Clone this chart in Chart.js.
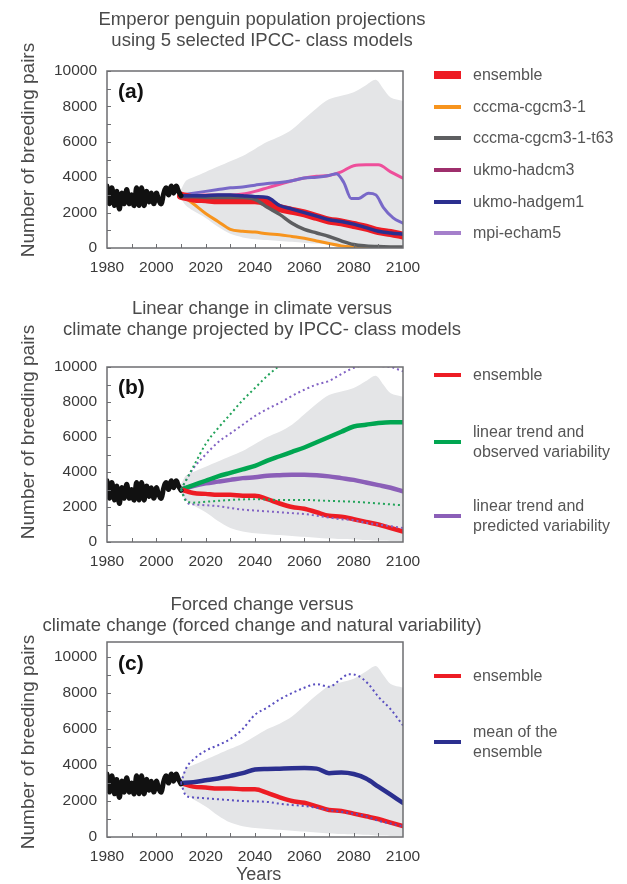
<!DOCTYPE html>
<html>
<head>
<meta charset="utf-8">
<script src="https://cdn.jsdelivr.net/npm/chart.js@4"></script>
<style>
body{margin:0;background:#fff;font-family:"Liberation Sans",Arial,sans-serif;}
#page{position:relative;width:627px;height:884px;overflow:hidden;}
canvas{position:absolute;left:0;}
.title{position:absolute;left:12px;width:500px;text-align:center;font-size:18.5px;line-height:21px;color:#4a4a4a;white-space:nowrap;}
.ylab{position:absolute;width:260px;left:-102px;text-align:center;font-size:19px;color:#4a4a4a;transform:rotate(-90deg);white-space:nowrap;}
.tag{position:absolute;left:118px;font-size:21px;font-weight:bold;color:#111;line-height:22px;}
.sw{position:absolute;left:434px;width:27px;}
.lt{position:absolute;left:473px;font-size:16px;line-height:20px;color:#555;white-space:nowrap;}
</style>
</head>
<body>
<div id="page">
<canvas id="ca" width="627" height="290" style="top:0"></canvas>
<canvas id="cb" width="627" height="300" style="top:290px"></canvas>
<canvas id="cc" width="627" height="294" style="top:590px"></canvas>

<div class="title" style="top:8px">Emperor penguin population projections<br>using 5 selected IPCC- class models</div>
<div class="title" style="top:297px">Linear change in climate versus<br>climate change projected by IPCC- class models</div>
<div class="title" style="top:593px">Forced change versus<br>climate change (forced change and natural variability)</div>

<div class="ylab" style="top:139px">Number of breeding pairs</div>
<div class="ylab" style="top:421px">Number of breeding pairs</div>
<div class="ylab" style="top:731px">Number of breeding pairs</div>

<div class="tag" style="top:80px">(a)</div>
<div class="tag" style="top:376px">(b)</div>
<div class="tag" style="top:652px">(c)</div>

<div style="position:absolute;left:236px;top:864px;font-size:18px;color:#4a4a4a">Years</div>

<div id="legends"></div>
</div>

<script>
// ---- data ----
const obsYears = [1980,1981,1982,1983,1984,1985,1986,1987,1988,1989,1990,1991,1992,1993,1994,1995,1996,1997,1998,1999,2000,2001,2002,2003,2004,2005,2006,2007,2008,2009,2010];
const obsPairs = [3500,2500,3400,2400,3200,2200,3100,2500,3300,2500,3000,2400,3400,2400,3400,2400,3200,2600,3100,2500,3100,2700,2500,3100,3400,3000,3500,3100,3500,3200,2950];

const projYears = [2010,2015,2020,2025,2030,2035,2040,2045,2050,2055,2060,2065,2070,2075,2080,2085,2090,2095,2100];

const bandYears = [2010,2012,2015,2020,2025,2030,2035,2040,2045,2050,2055,2060,2065,2070,2075,2080,2085,2089,2092,2095,2100];
const bandUpper = [3300,3800,4000,4300,4600,4900,5200,5600,6000,6300,6700,7300,7900,8400,8600,8800,9200,9500,9000,8500,8300];
const bandLower = [2800,2400,2100,1700,1200,800,600,500,450,400,350,300,250,200,170,150,120,90,80,60,50];

// panel (a)
const ensembleA  = [2950,2800,2750,2700,2700,2700,2700,2550,2250,2100,1950,1750,1550,1450,1300,1150,950,850,700];
const cccma      = [3000,2500,1950,1500,1050,950,900,800,750,650,550,400,250,120,60,20,0,0,0];
const cccmaT63   = [2900,2900,2850,2850,2850,2850,2750,2300,1900,1400,1050,850,650,400,200,120,80,60,50];
const hadcm3     = [3000,3000,3000,3000,3000,3050,3200,3400,3600,3800,3950,4050,4100,4300,4650,4700,4700,4300,3950];
const hadgem1    = [2950,2950,2950,3000,3000,2950,2900,2850,2400,2200,2000,1800,1600,1500,1350,1150,950,850,780];
const echamYears = [2010,2015,2020,2025,2030,2035,2040,2045,2050,2055,2060,2065,2070,2073,2076,2079,2082,2086,2089,2092,2096,2100];
const echam5     = [3000,3100,3200,3300,3400,3450,3550,3650,3700,3800,3950,4000,4100,4200,3700,2800,2800,3100,3000,2300,1700,1400];

// panel (b)
const ensemble     = [3000,2800,2750,2700,2700,2650,2650,2450,2200,2000,1900,1700,1500,1450,1300,1150,1000,800,600];
const trendObs     = [3000,3250,3500,3750,3950,4150,4350,4650,4900,5150,5400,5700,6000,6300,6600,6700,6800,6850,6850];
const trendPred    = [3000,3200,3350,3450,3550,3650,3700,3780,3820,3850,3850,3820,3750,3650,3550,3400,3250,3100,2900];
const obsHiYears   = [2010,2015,2020,2025,2030,2035,2040,2045,2050,2055,2060];
const trendObsHi   = [3000,4300,5600,6500,7300,8100,8800,9500,10100,10800,11500];
const obsLoYears   = [2010,2012,2015,2020,2030,2040,2050,2060,2070,2080,2090,2100];
const trendObsLo   = [3000,2350,2250,2300,2400,2450,2400,2400,2350,2300,2200,2100];
const trendPredHi  = [3000,4200,5000,5700,6200,6700,7200,7600,7950,8350,8700,9000,9200,9600,9950,10100,10050,10000,9750];
const predLoYears  = [2010,2013,2015,2020,2025,2030,2035,2040,2045,2050,2055,2060,2065,2070,2075,2080,2085,2090,2095,2100];
const trendPredLo  = [3000,2200,2150,2100,2050,1950,1850,1800,1750,1700,1650,1600,1500,1400,1300,1250,1100,1000,900,800];

// panel (c)
const ensMean      = [3000,3050,3150,3250,3400,3550,3750,3780,3800,3820,3830,3800,3550,3580,3500,3250,2800,2350,1900];
const meanHiYears  = [2010,2012,2015,2020,2025,2030,2035,2040,2045,2050,2055,2060,2065,2070,2075,2078,2082,2086,2090,2095,2100];
const ensMeanHi    = [3000,3800,4300,4800,5100,5450,6000,6800,7200,7650,8000,8300,8500,8350,8800,9050,8950,8500,7800,7100,6200];
const meanLoYears  = [2010,2012,2015,2020,2025,2030,2035,2040,2045,2050,2055,2060,2065,2070,2075,2080,2085,2090,2095,2100];
const ensMeanLo    = [3000,2300,2200,2150,2100,2050,2000,1980,1950,1850,1780,1720,1620,1500,1400,1300,1150,900,750,600];

const xTicks = [1980,2000,2020,2040,2060,2080,2100];
const yTicks = [0,2000,4000,6000,8000,10000];

// ---- helpers ----
function pts(xs, ys) { return xs.map((x, i) => ({x: x, y: ys[i]})); }

function line(label, xs, ys, color, width, opts) {
    return Object.assign({
        label: label, data: pts(xs, ys), borderColor: color, borderWidth: width,
        pointRadius: 0, fill: false, cubicInterpolationMode: 'monotone', borderJoinStyle: 'round', borderCapStyle: 'round'
    }, opts || {});
}
function dotted(label, xs, ys, color) {
    return line(label, xs, ys, color, 2, {borderDash: [2, 3], borderCapStyle: 'butt'});
}
function bandSets() {
    return [
        {label: 'range low', data: pts(bandYears, bandLower), borderWidth: 0, pointRadius: 0, fill: false, tension: 0.3, order: 100},
        {label: 'range high', data: pts(bandYears, bandUpper), borderWidth: 0, pointRadius: 0, fill: '-1', backgroundColor: '#e4e5e7', tension: 0.3, order: 100}
    ];
}
function obsLine() {
    return line('observed', obsYears, obsPairs, '#111', 5, {cubicInterpolationMode: 'default', tension: 0.4, order: 1});
}

// box round the plot and small inward ticks
const frame = {
    id: 'frame',
    afterDraw(chart) {
        const a = chart.chartArea, ctx = chart.ctx, xs = chart.scales.x, ys = chart.scales.y;
        ctx.save();
        ctx.strokeStyle = '#6d6e71';
        ctx.lineWidth = 1;
        for (let v = 0; v <= 10000; v += 1000) {
            const y = Math.round(ys.getPixelForValue(v)) + 0.5;
            ctx.beginPath(); ctx.moveTo(a.left, y); ctx.lineTo(a.left + 4, y); ctx.stroke();
        }
        for (let v = 1990; v < 2100; v += 10) {
            const x = Math.round(xs.getPixelForValue(v)) + 0.5;
            ctx.beginPath(); ctx.moveTo(x, a.bottom); ctx.lineTo(x, a.bottom - 4); ctx.stroke();
        }
        ctx.lineWidth = 1.5;
        ctx.strokeRect(a.left, a.top, a.right - a.left, a.bottom - a.top);
        ctx.restore();
    }
};

const tickFont = {family: '"Liberation Sans", Arial', size: 15.5};

function makeChart(id, top, xHeight, ymax, datasets) {
    return new Chart(document.getElementById(id), {
        type: 'line',
        data: {datasets: datasets},
        plugins: [frame],
        options: {
            responsive: false, animation: false, devicePixelRatio: 1,
            layout: {padding: {left: 0, right: 224, top: top, bottom: 0}},
            plugins: {legend: {display: false}, tooltip: {enabled: false}},
            scales: {
                x: {
                    type: 'linear', min: 1980, max: 2100,
                    afterBuildTicks: s => { s.ticks = xTicks.map(v => ({value: v})); },
                    afterFit: s => { s.height = xHeight; },
                    grid: {display: false, drawTicks: false},
                    border: {display: false},
                    ticks: {padding: 10, color: '#3a3a3a', font: tickFont, callback: v => String(v)}
                },
                y: {
                    type: 'linear', min: 0, max: ymax,
                    afterBuildTicks: s => { s.ticks = yTicks.map(v => ({value: v})); },
                    afterFit: s => { s.width = 107; },
                    grid: {display: false, drawTicks: false},
                    border: {display: false},
                    ticks: {padding: 10, color: '#3a3a3a', font: tickFont, callback: v => String(v)}
                }
            }
        }
    });
}

// panel (a)
makeChart('ca', 71, 42, 10000, [
    obsLine(),
    line('ukmo-hadgem1', projYears, hadgem1, '#2b2f8f', 3.5, {order: 2}),
    line('cccma-cgcm3-1-t63', projYears, cccmaT63, '#5d5e60', 3.5, {order: 3}),
    line('ensemble', projYears, ensembleA, '#ed1c24', 8, {order: 4}),
    line('mpi-echam5', echamYears, echam5, '#7868c8', 3, {order: 5}),
    line('ukmo-hadcm3', projYears, hadcm3, '#ee4f9b', 3, {order: 6}),
    line('cccma-cgcm3-1', projYears, cccma, '#f7941d', 3, {order: 7})
].concat(bandSets()));

// panel (b)
makeChart('cb', 77, 48, 10000, [
    obsLine(),
    line('ensemble', projYears, ensemble, '#ed1c24', 4.5, {order: 2}),
    line('linear trend and observed variability', projYears, trendObs, '#00a651', 4.5, {order: 3}),
    line('linear trend and predicted variability', projYears, trendPred, '#8b5fb8', 4.5, {order: 4}),
    dotted('observed high', obsHiYears, trendObsHi, '#22a35a'),
    dotted('observed low', obsLoYears, trendObsLo, '#22a35a'),
    dotted('predicted high', projYears, trendPredHi, '#8263c4'),
    dotted('predicted low', predLoYears, trendPredLo, '#8263c4')
].concat(bandSets()));

// panel (c)
makeChart('cc', 52, 47, 10840, [
    obsLine(),
    line('mean of the ensemble', projYears, ensMean, '#2b2f8f', 4.5, {order: 2}),
    line('ensemble', projYears, ensemble, '#ed1c24', 4.5, {order: 3}),
    dotted('mean high', meanHiYears, ensMeanHi, '#5a4fc0'),
    dotted('mean low', meanLoYears, ensMeanLo, '#5a4fc0')
].concat(bandSets()));

// legends (swatch colour, thickness, centre y, text lines)
const legendItems = [
    ['#ed1c24', 8, 75, ['ensemble']],
    ['#f7941d', 4, 107, ['cccma-cgcm3-1']],
    ['#5d5e60', 4, 138, ['cccma-cgcm3-1-t63']],
    ['#9e2f6c', 4, 170, ['ukmo-hadcm3']],
    ['#2b2f8f', 4, 202, ['ukmo-hadgem1']],
    ['#a57fcb', 4, 233, ['mpi-echam5']],
    ['#ed1c24', 4, 375, ['ensemble']],
    ['#00a651', 4, 442, ['linear trend and', 'observed variability']],
    ['#8b5fb8', 4, 516, ['linear trend and', 'predicted variability']],
    ['#ed1c24', 4, 676, ['ensemble']],
    ['#2b2f8f', 4, 742, ['mean of the', 'ensemble']]
];
const lg = document.getElementById('legends');
legendItems.forEach(it => {
    const sw = document.createElement('div');
    sw.className = 'sw';
    sw.style.background = it[0];
    sw.style.height = it[1] + 'px';
    sw.style.top = (it[2] - it[1] / 2) + 'px';
    lg.appendChild(sw);
    const t = document.createElement('div');
    t.className = 'lt';
    t.innerHTML = it[3].join('<br>');
    t.style.top = (it[2] - it[3].length * 10) + 'px';
    lg.appendChild(t);
});
</script>
</body>
</html>
